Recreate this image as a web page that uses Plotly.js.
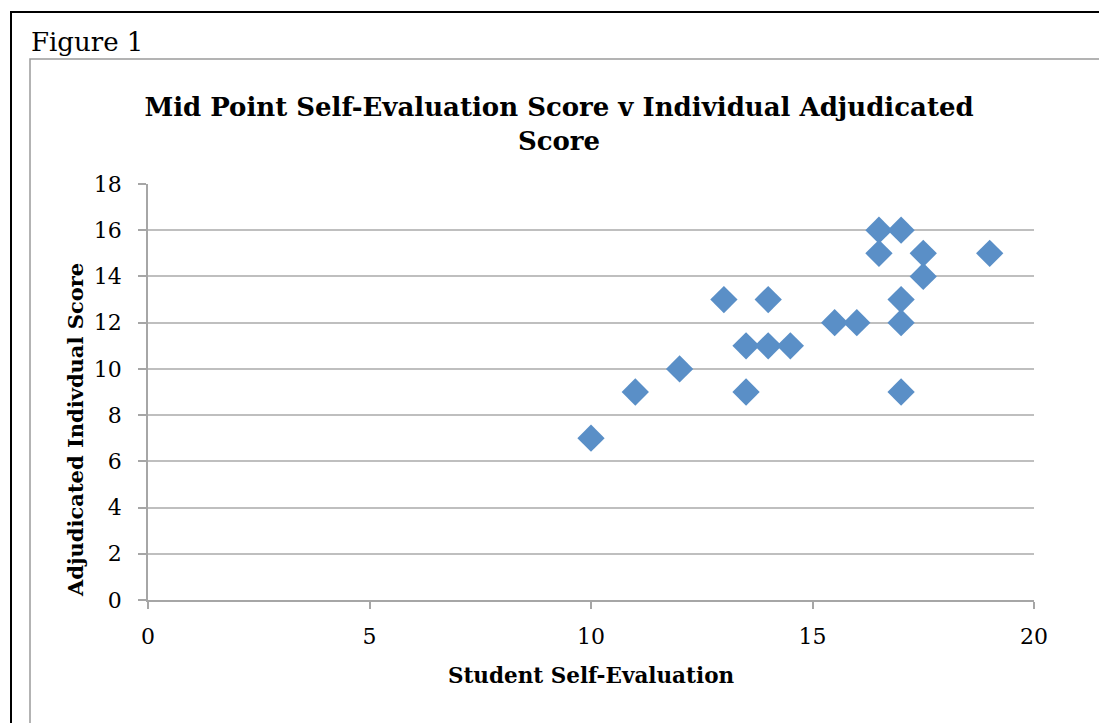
<!DOCTYPE html>
<html>
<head>
<meta charset="utf-8">
<script src="https://cdn.plot.ly/plotly-3.0.1.min.js"></script>
<style>html,body{margin:0;padding:0;background:#fff;}#chart{width:1099px;height:723px;}</style>
</head>
<body>
<div id="chart"></div>
<script>
const selfEval = [10, 11, 12, 13, 13.5, 13.5, 14, 14, 14.5, 15.5, 16, 16.5, 16.5, 17, 17, 17, 17, 17.5, 17.5, 19];
const adjudicated = [7, 9, 10, 13, 11, 9, 13, 11, 11, 12, 12, 16, 15, 16, 13, 12, 9, 15, 14, 15];
const xTicks = [0, 5, 10, 15, 20];
const yTicks = [0, 2, 4, 6, 8, 10, 12, 14, 16, 18];
const titleText = 'Mid Point Self-Evaluation Score v Individual Adjudicated<br>Score';
const xTitle = 'Student Self-Evaluation';
const yTitle = 'Adjudicated Indivdual Score';
const figLabel = 'Figure 1';

const FONT = 'DejaVu Serif';
const L = 148, R = 1034, T = 184, B = 600, W = 1099, H = 723;
const px = v => (v - L) / (R - L);
const py = v => (B - v) / (B - T);

const trace = {
  x: selfEval, y: adjudicated, type: 'scatter', mode: 'markers',
  marker: {symbol: 'diamond', size: 21, color: '#5A8FC7', line: {width: 0}},
  hoverinfo: 'x+y'
};

const layout = {
  width: W, height: H,
  margin: {l: L, r: W - R, t: T, b: H - B},
  paper_bgcolor: '#fff', plot_bgcolor: '#fff',
  showlegend: false,
  font: {family: FONT, color: '#000'},
  title: {text: titleText, font: {family: FONT, size: 26, color: '#000', weight: 'bold'},
    x: px(559), xref: 'paper', xanchor: 'center', y: 1 - 116 / H, yanchor: 'middle'},
  xaxis: {range: [0, 20], tickvals: xTicks, ticktext: xTicks.map(String),
    showgrid: false, zeroline: false, showline: true, linecolor: '#A6A6A6', linewidth: 1.5,
    ticks: 'outside', ticklen: 7, tickcolor: '#A6A6A6', tickwidth: 1.5,
    ticklabelstandoff: 9,
    tickfont: {size: 22, family: FONT}, fixedrange: true,
    title: {text: xTitle, font: {size: 21.5, family: FONT, weight: 'bold'}, standoff: 20}},
  yaxis: {range: [0, 18], tickvals: yTicks, ticktext: yTicks.map(String),
    showgrid: true, gridcolor: '#BFBFBF', gridwidth: 1.5, zeroline: false,
    showline: true, linecolor: '#A6A6A6', linewidth: 1.5,
    ticks: 'outside', ticklen: 8, tickcolor: '#A6A6A6', tickwidth: 1.5,
    ticklabelstandoff: 12,
    tickfont: {size: 22, family: FONT}, fixedrange: true},
  shapes: [
    {type: 'rect', xref: 'paper', yref: 'paper', x0: px(11), x1: px(1120), y0: py(12), y1: py(760),
      line: {color: '#000', width: 2}, fillcolor: 'rgba(0,0,0,0)', layer: 'below'},
    {type: 'rect', xref: 'paper', yref: 'paper', x0: px(30), x1: px(1120), y0: py(59), y1: py(760),
      line: {color: '#9A9A9A', width: 1.5}, fillcolor: 'rgba(0,0,0,0)', layer: 'below'}
  ],
  annotations: [
    {text: figLabel, xref: 'paper', yref: 'paper', x: px(29), y: py(42), xanchor: 'left', yanchor: 'middle',
      showarrow: false, font: {family: FONT, size: 26, color: '#000'}},
    {text: yTitle, xref: 'paper', yref: 'paper', x: px(75), y: py(430), xanchor: 'center', yanchor: 'middle',
      textangle: -90, showarrow: false, font: {family: FONT, size: 21, color: '#000', weight: 'bold'}}
  ]
};

Plotly.newPlot('chart', [trace], layout, {displayModeBar: false});
</script>
</body>
</html>
